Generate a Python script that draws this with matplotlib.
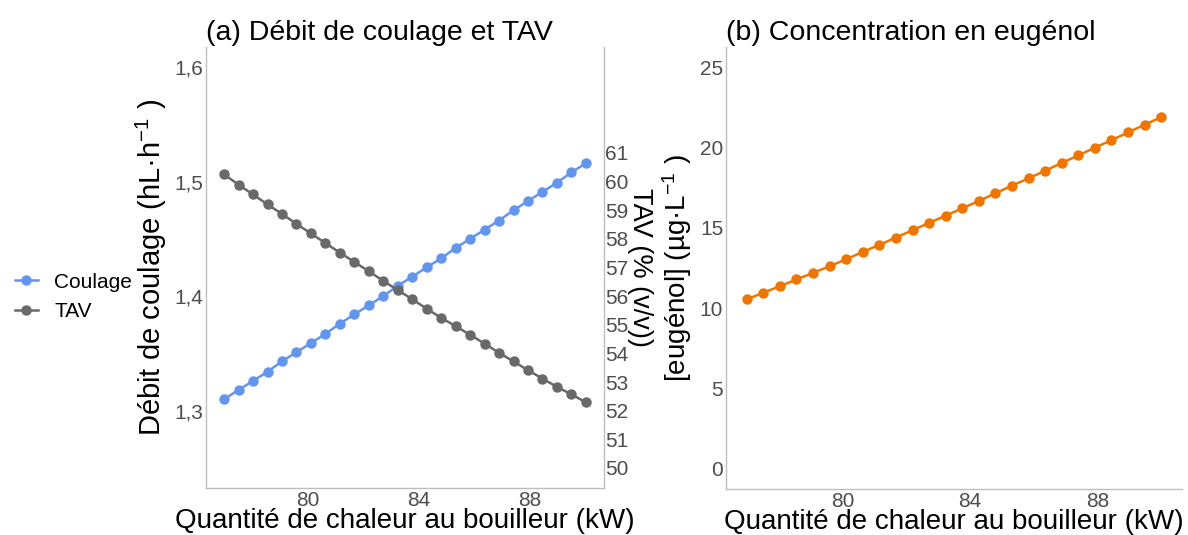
import numpy as np
import matplotlib.pyplot as plt
from matplotlib.lines import Line2D

plt.rcParams['font.family'] = ['Liberation Sans', 'DejaVu Sans']
plt.rcParams['mathtext.fontset'] = 'custom'
plt.rcParams['mathtext.rm'] = 'Liberation Sans'
plt.rcParams['mathtext.it'] = 'Liberation Sans'

# quantité de chaleur au bouilleur (kW)
chaleur = np.linspace(77, 90, 26)

# débit de coulage (hL/h)
coulage = [1.310, 1.318, 1.326, 1.334, 1.343, 1.351, 1.359, 1.367, 1.376, 1.384,
           1.392, 1.400, 1.409, 1.417, 1.425, 1.433, 1.442, 1.450, 1.458, 1.466,
           1.475, 1.483, 1.491, 1.499, 1.508, 1.516]

# TAV (% v/v)
tav = [60.25, 59.89, 59.55, 59.20, 58.87, 58.52, 58.19, 57.85, 57.52, 57.19,
       56.87, 56.53, 56.21, 55.89, 55.56, 55.24, 54.95, 54.65, 54.34, 54.02,
       53.72, 53.41, 53.12, 52.83, 52.57, 52.29]

# concentration en eugénol (µg/L)
eugenol = [10.56, 10.96, 11.37, 11.79, 12.20, 12.61, 13.05, 13.50, 13.94, 14.40,
           14.85, 15.31, 15.76, 16.22, 16.67, 17.15, 17.63, 18.08, 18.56, 19.04,
           19.51, 19.99, 20.46, 20.94, 21.42, 21.89]

x_ticks = [80, 84, 88]
c_blue = '#6495ED'
c_gray = '#696969'
c_orange = '#EE7600'
c_axis = '#BEBEBE'
c_tick = '#4D4D4D'

fig = plt.figure(figsize=(11.88, 5.35), dpi=100)
ax1 = fig.add_axes([0.1734, 0.0879, 0.335, 0.8243])
ax3 = fig.add_axes([0.6111, 0.0860, 0.3838, 0.826])

#panneau (a)
ax1.plot(chaleur, coulage, color=c_blue, lw=1.8, marker='o', ms=6.5, zorder=3)
ax1.set_xlim(76.35, 90.65)
ax1.set_ylim(1.2325, 1.6175)
ax1.set_yticks([1.3, 1.4, 1.5, 1.6])
ax1.set_yticklabels(['1,3', '1,4', '1,5', '1,6'])
ax1.set_xticks(x_ticks)
ax1.set_ylabel('Débit de coulage (hL·h$^{-1}$ )', fontsize=21, labelpad=4)
ax1.set_xlabel('Quantité de chaleur au bouilleur (kW)', fontsize=20, labelpad=-1)
ax1.set_title('(a) Débit de coulage et TAV', loc='left', fontsize=20.5, pad=5)

ax2 = ax1.twinx()
ax2.plot(chaleur, tav, color=c_gray, lw=1.8, marker='o', ms=6.5, zorder=3)
ax2.set_ylim(1.2325 * 40, 1.6175 * 40)
ax2.set_yticks(range(50, 62))
ax2.set_ylabel('TAV (% (v/v))', fontsize=19.5, rotation=-90, va='center')
ax2.yaxis.set_label_coords(1.09, 0.5)

#panneau (b)
ax3.plot(chaleur, eugenol, color=c_orange, lw=1.8, marker='o', ms=6.5)
ax3.set_xlim(76.35, 90.65)
ax3.set_ylim(-1.25, 26.25)
ax3.set_yticks([0, 5, 10, 15, 20, 25])
ax3.set_xticks(x_ticks)
ax3.set_ylabel('[eugénol] (µg·L$^{-1}$ )', fontsize=20, labelpad=4)
ax3.set_xlabel('Quantité de chaleur au bouilleur (kW)', fontsize=20, labelpad=-1)
ax3.set_title('(b) Concentration en eugénol', loc='left', fontsize=20.5, pad=5)

for ax in (ax1, ax2, ax3):
    ax.tick_params(length=0, labelsize=15, labelcolor=c_tick, pad=2)
    for s in ax.spines.values():
        s.set_color(c_axis)
        s.set_linewidth(1.0)
    ax.spines['top'].set_visible(False)
ax1.spines['right'].set_visible(False)
ax3.spines['right'].set_visible(False)
ax2.spines['left'].set_visible(False)
ax2.spines['bottom'].set_visible(False)
ax2.tick_params(pad=1)

handles = [Line2D([], [], color=c_blue, lw=1.8, marker='o', ms=6.5),
           Line2D([], [], color=c_gray, lw=1.8, marker='o', ms=6.5)]
fig.legend(handles, ['Coulage', 'TAV'], loc='center left', bbox_to_anchor=(0.0, 0.445),
           frameon=False, fontsize=15, handlelength=1.1, handletextpad=0.8, labelspacing=0.5,
           borderaxespad=0.3)

fig.savefig('out.png', dpi=100)
